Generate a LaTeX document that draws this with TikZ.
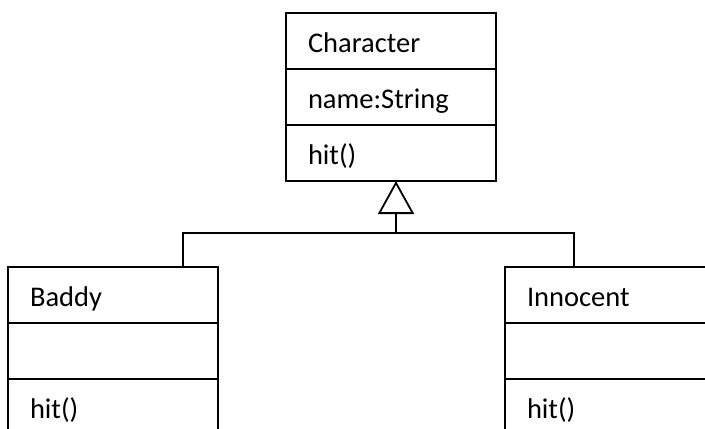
\documentclass[tikz,border=0pt]{standalone}
\usepackage{fontspec}
\setmainfont{Carlito}
\usetikzlibrary{arrows.meta}
\tikzset{
  comp/.style={draw, line width=2bp, anchor=north west, minimum width=210bp,
    minimum height=56bp, text width=166bp, inner xsep=22bp, inner ysep=0bp,
    outer sep=0bp, align=left, text height=22bp, text depth=0bp,
    font=\fontsize{28.5bp}{34bp}\selectfont},
  conn/.style={line width=2bp},
  gen/.style={-{Triangle[open, length=33bp, width=36bp, line width=1.8bp]}}
}
\begin{document}
\begin{tikzpicture}[x=1bp,y=-1bp]
\useasboundingbox (0,0) rectangle (705,428);
% Character
\node[comp] (c1) at (286,13) {Character};
\node[comp] (c2) at (c1.south west) {name:String};
\node[comp] (c3) at (c2.south west) {hit()};
% Baddy
\node[comp] (b1) at (8,267) {Baddy};
\node[comp] (b2) at (b1.south west) {};
\node[comp] (b3) at (b2.south west) {hit()};
% Innocent
\node[comp] (i1) at (505,267) {Innocent};
\node[comp] (i2) at (i1.south west) {};
\node[comp] (i3) at (i2.south west) {hit()};
% connectors
\coordinate (j) at (396,233);
\coordinate (jl) at (183,233);
\coordinate (jr) at (574,233);
\draw[conn, gen] (j) -- (j |- c3.south);
\draw[conn] (jl |- b1.north) -- (jl) -- (jr) -- (jr |- i1.north);
\end{tikzpicture}
\end{document}
